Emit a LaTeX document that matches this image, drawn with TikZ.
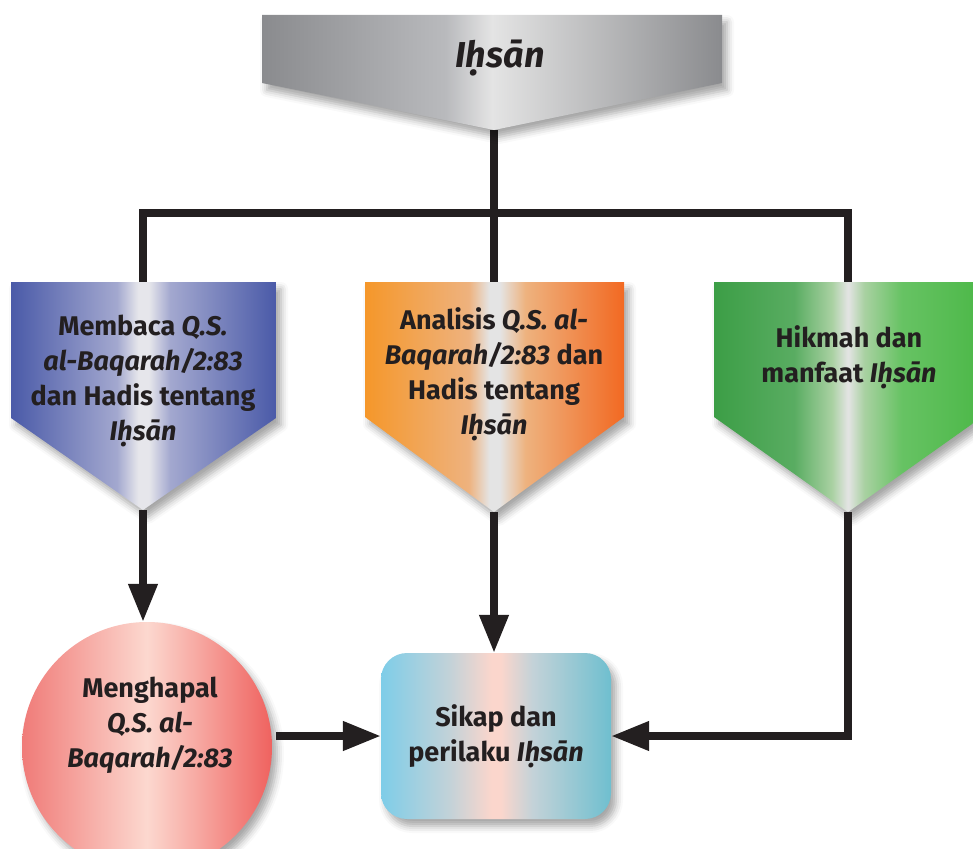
\documentclass[tikz,border=0pt]{standalone}
\usepackage{fontspec}
\setmainfont{Fira Sans}
\usetikzlibrary{arrows.meta,calc,positioning,shadows.blur}

\definecolor{LineClr}{HTML}{231F20}
\definecolor{GreyDark}{HTML}{8A8B8E}
\definecolor{GreyMid}{HTML}{B9BABD}
\definecolor{GreyLight}{HTML}{E4E4E4}
\definecolor{BlueDark}{HTML}{4A5AA8}
\definecolor{BlueMid}{HTML}{A3A8CF}
\definecolor{BlueLight}{HTML}{E6E6EB}
\definecolor{OrangeL}{HTML}{F5972A}
\definecolor{OrangeR}{HTML}{F26922}
\definecolor{OrangeMid}{HTML}{EEB27E}
\definecolor{GreenL}{HTML}{3C9E46}
\definecolor{GreenR}{HTML}{4CB848}
\definecolor{GreenMid}{HTML}{A9D1A2}
\definecolor{PinkL}{HTML}{F07B78}
\definecolor{PinkR}{HTML}{EF625F}
\definecolor{PinkLight}{HTML}{FCD8CF}
\definecolor{CyanL}{HTML}{7ECDE8}
\definecolor{CyanR}{HTML}{6FBFCF}
\definecolor{CyanMid}{HTML}{C3D2D8}
\definecolor{Peach}{HTML}{FBD6CC}

\pgfdeclarehorizontalshading{GreyShade}{100bp}{color(0bp)=(GreyDark); color(25bp)=(GreyDark); color(45bp)=(GreyMid); color(50bp)=(GreyLight); color(75bp)=(GreyDark); color(100bp)=(GreyDark)}
\pgfdeclarehorizontalshading{BlueShade}{100bp}{color(0bp)=(BlueDark); color(25bp)=(BlueDark); color(45bp)=(BlueMid); color(49bp)=(BlueLight); color(51bp)=(BlueLight); color(55bp)=(BlueMid); color(75bp)=(BlueDark); color(100bp)=(BlueDark)}
\pgfdeclarehorizontalshading{OrangeShade}{100bp}{color(0bp)=(OrangeL); color(25bp)=(OrangeL); color(45bp)=(OrangeMid); color(49bp)=(GreyLight); color(51bp)=(GreyLight); color(56bp)=(OrangeMid); color(75bp)=(OrangeR); color(100bp)=(OrangeR)}
\pgfdeclarehorizontalshading{GreenShade}{100bp}{color(0bp)=(GreenL); color(25bp)=(GreenL); color(40bp)=(GreenL!85!white); color(47bp)=(GreenMid); color(50bp)=(GreyLight); color(53bp)=(GreenMid); color(60bp)=(GreenR!85!white); color(75bp)=(GreenR); color(100bp)=(GreenR)}
\pgfdeclarehorizontalshading{PinkShade}{100bp}{color(0bp)=(PinkL); color(25bp)=(PinkL); color(50bp)=(PinkLight); color(75bp)=(PinkR); color(100bp)=(PinkR)}
\pgfdeclarehorizontalshading{CyanShade}{100bp}{color(0bp)=(CyanL); color(25bp)=(CyanL); color(40bp)=(CyanMid); color(49bp)=(Peach); color(51bp)=(Peach); color(58bp)=(CyanMid); color(75bp)=(CyanR); color(100bp)=(CyanR)}

\begin{document}
\begin{tikzpicture}[x=1pt,y=-1pt,
  flow/.style={line width=7.5pt,color=LineClr},
  tip/.style={-{Triangle[length=38pt,width=28pt]}},
  soft/.style={blur shadow={shadow xshift=5pt,shadow yshift=-7pt,shadow opacity=35,shadow blur radius=7pt}},
  label/.style={font=\fontsize{27}{35}\selectfont\bfseries,align=center,text=LineClr}]
\useasboundingbox (0,0) rectangle (973,848);

\coordinate (Ttip) at (494,130);
\coordinate (Ltop) at (143,282);
\coordinate (Mtop) at (494,282);
\coordinate (Rtop) at (848,282);
\coordinate (Ltip) at (143,510);
\coordinate (Mtip) at (494,512);
\coordinate (Rtip) at (848,512);

\draw[flow] (Ttip) -- (Mtop);
\draw[flow] (Ltop) -- ++(0,-69) -| (Rtop);

\shade[shading=GreyShade,soft] (262,15) -- (722,15) -- (722,83) -- (Ttip) -- (262,83) -- cycle;
\shade[shading=BlueShade,soft] (11,282) -- (276,282) -- (276,418) -- (Ltip) -- (11,418) -- cycle;
\shade[shading=OrangeShade,soft] (365,282) -- (624,282) -- (624,417) -- (Mtip) -- (365,417) -- cycle;
\shade[shading=GreenShade,soft] (714,282) -- (982,282) -- (982,417) -- (Rtip) -- (714,417) -- cycle;

\node[label,font=\fontsize{36}{40}\selectfont\bfseries] (ihsan) at (500,58) {\textit{Iḥsān}};
\node[label] (membaca) at (143,381) {Membaca \textit{Q.S.}\\\textit{al-Baqarah/2:83}\\dan Hadis tentang\\\textit{Iḥsān}};
\node[label] (analisis) at (494,374) {Analisis \textit{Q.S. al-}\\\textit{Baqarah/2:83} dan\\Hadis tentang\\\textit{Iḥsān}};
\node[label] (hikmah) at (849,357) {Hikmah dan\\manfaat \textit{Iḥsān}};

\node[circle,minimum size=250pt,shading=PinkShade,soft] (memo) at (147,747) {};
\node[label] (menghapal) at (150,725) {Menghapal\\\textit{Q.S. al-}\\\textit{Baqarah/2:83}};
\node[label,rounded corners=26pt,minimum width=230pt,minimum height=166pt,shading=CyanShade,soft] (sikap) at (496,736) {Sikap dan\\perilaku \textit{Iḥsān}};

\draw[flow,tip] (Ltip) -- (Ltip |- memo.north);
\draw[flow,tip] (Mtip) -- (Mtip |- sikap.north);
\draw[flow,tip] (Rtip) |- (sikap.east);
\draw[flow,tip] ([xshift=4pt]memo.east |- sikap.west) -- (sikap.west);
\end{tikzpicture}
\end{document}
